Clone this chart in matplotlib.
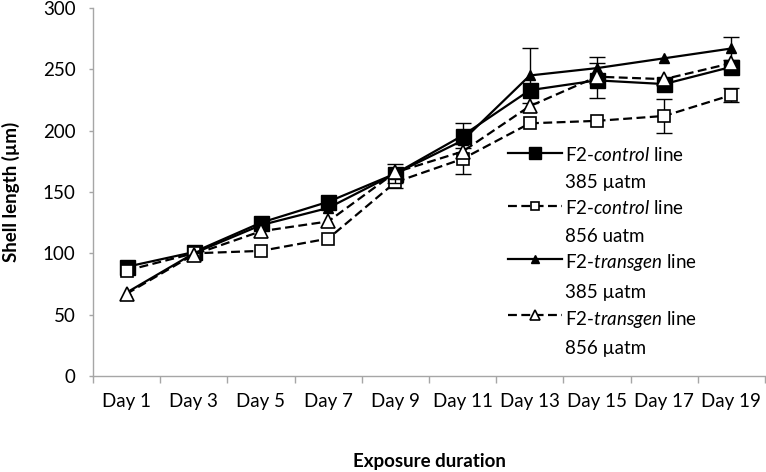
import numpy as np
import matplotlib
matplotlib.use("Agg")
import matplotlib.pyplot as plt
from matplotlib.ticker import FixedLocator

plt.rcParams['font.family'] = ['Lato', 'DejaVu Sans']
plt.rcParams['mathtext.fontset'] = 'custom'
plt.rcParams['mathtext.rm'] = 'Lato'
plt.rcParams['mathtext.it'] = 'Lato:italic'
plt.rcParams['mathtext.bf'] = 'Lato:bold'

# ---- data ----
days = ["Day 1", "Day 3", "Day 5", "Day 7", "Day 9",
        "Day 11", "Day 13", "Day 15", "Day 17", "Day 19"]
ctrl_385 = [89, 101, 125, 142, 165, 196, 233, 241, 238, 252]
ctrl_385_err = [np.nan, np.nan, np.nan, np.nan, np.nan, 10, np.nan, 14, np.nan, np.nan]
ctrl_856 = [86, 100, 102, 112, 158, 177, 206, 208, 212, 229]
ctrl_856_err = [np.nan, np.nan, np.nan, np.nan, 5, 12, np.nan, np.nan, 13.5, 6]
tg_385 = [68, 100, 123, 137, 165, 192, 245, 251, 259, 267]
tg_385_err = [np.nan, np.nan, np.nan, np.nan, 8, np.nan, 22.5, 9, np.nan, 9]
tg_856 = [67, 99, 118, 126, 166, 183, 220, 244, 242, 255]
tg_856_err = [np.nan] * 10

labels = ["F2-$\\it{control}$ line\n385 µatm",
          "F2-$\\it{control}$ line\n856 uatm",
          "F2-$\\it{transgen}$ line\n385 µatm",
          "F2-$\\it{transgen}$ line\n856 µatm"]

W, H = 766, 472
fig = plt.figure(figsize=(W / 100, H / 100), dpi=100)
ax = fig.add_axes([93 / W, 1 - 376 / H, 672 / W, 368 / H])
x = np.arange(len(days))

gray = "#A6A6A6"
series = [
    (ctrl_385, ctrl_385_err, dict(ls='-', marker='s', ms=10.8, mfc='black', mec='black', mew=1.0)),
    (ctrl_856, ctrl_856_err, dict(ls=(0, (4, 2)), marker='s', ms=8, mfc='white', mec='black', mew=1.2)),
    (tg_385, tg_385_err, dict(ls='-', marker='^', ms=7.5, mfc='black', mec='black', mew=1.0)),
    (tg_856, tg_856_err, dict(ls=(0, (4, 2)), marker='^', ms=10, mfc='white', mec='black', mew=1.2)),
]

handles = []
for i, (vals, err, st) in enumerate(series):
    ax.errorbar(x, vals, yerr=err, fmt='none', ecolor='black', elinewidth=1.0,
                capsize=5.5, capthick=1.0, zorder=2 + i)
    h, = ax.plot(x, vals, color='black', lw=1.6, zorder=2.5 + i, **st)
    handles.append(h)

ax.set_xlim(-0.5, 9.5)
ax.set_ylim(0, 300)
ax.set_yticks(range(0, 301, 50))
ax.set_xticks(x)
ax.set_xticklabels(days)
ax.xaxis.set_minor_locator(FixedLocator(np.arange(-0.5, 10, 1.0)))
ax.tick_params(axis='x', which='major', length=0, pad=12, labelsize=13.5)
ax.tick_params(axis='x', which='minor', length=5, color=gray, width=1)
ax.tick_params(axis='y', length=3, color=gray, width=1, pad=9.5, labelsize=13.5)
for s in ['top', 'right']:
    ax.spines[s].set_visible(False)
for s in ['left', 'bottom']:
    ax.spines[s].set_color(gray)
    ax.spines[s].set_linewidth(1)

ax.set_ylabel("Shell length (µm)", fontsize=13.5, fontweight='bold')
ax.yaxis.set_label_coords((10.5 - 93) / 672, 0.5)
ax.yaxis.label.set_va('center')
ax.set_xlabel("Exposure duration", fontsize=13.5, fontweight='bold')
ax.xaxis.set_label_coords(0.5, (376 - 461) / 368)
ax.xaxis.label.set_va('center')

leg = ax.legend(handles, labels, loc='upper left',
                bbox_to_anchor=(508 / W, 1 - 146 / H), bbox_transform=fig.transFigure,
                frameon=False, fontsize=13.5, handlelength=2.88, handletextpad=0.16,
                labelspacing=0.42, borderpad=0, borderaxespad=0, markerscale=0.75)
for t in leg.get_texts():
    t.set_linespacing(1.74)
for hp in leg._legend_handle_box.get_children()[0].get_children():
    hp.align = "top"

fig.savefig("out.png", dpi=100)
